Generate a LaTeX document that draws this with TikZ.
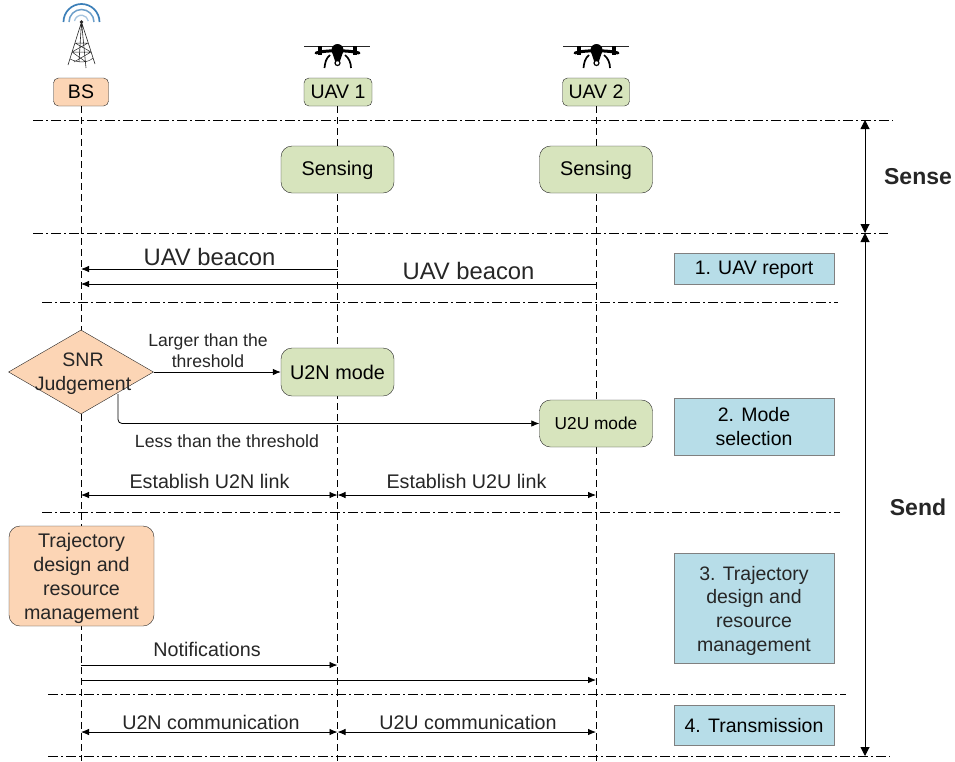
\documentclass[tikz,border=0pt]{standalone}
\usepackage{fontspec}
\setmainfont{Liberation Sans}
\usetikzlibrary{arrows.meta}
\usetikzlibrary{shapes.geometric}

\definecolor{orangefill}{HTML}{FCD5B5}
\definecolor{greenfill}{HTML}{D7E4BD}
\definecolor{bluefill}{HTML}{B7DDE8}
\definecolor{linegray}{HTML}{262626}
\definecolor{towerblue}{HTML}{3C7FB8}

\tikzset{
  head/.style={draw=linegray, rounded corners=5pt, minimum height=28pt, font=\fontsize{19.5}{23}\selectfont},
  state/.style={draw=linegray, rounded corners=11pt, fill=greenfill, minimum width=113pt, minimum height=47pt, font=\fontsize{19.8}{23}\selectfont},
  phase/.style={draw=gray, fill=bluefill, minimum width=160pt, align=center, font=\fontsize{19.5}{23.7}\selectfont},
  life/.style={draw=black, dashed, dash pattern=on 7pt off 4pt, thick},
  divider/.style={draw=black, dash pattern=on 10pt off 3pt on 2pt off 3pt, line width=0.7pt},
  msg/.style={-{Latex[length=8pt,width=6.5pt]}, draw=black, line width=0.8pt},
  twoway/.style={{Latex[length=8pt,width=6.5pt]}-{Latex[length=8pt,width=6.5pt]}, draw=black, line width=0.8pt},
  span/.style={{Triangle[length=9pt,width=9pt]}-{Triangle[length=9pt,width=9pt]}, draw=black, line width=1pt},
  lab/.style={font=\fontsize{19.7}{23}\selectfont, text=linegray},
}

\newcommand{\dronepic}[1]{
  \begin{scope}[shift={(#1,48)}]
    \draw[linegray, line width=1pt] (-33,-2) -- (33,-2);
    \draw[black, line width=3pt, line cap=round] (-21,5) .. controls (-12,2) and (12,2) .. (22,5);
    \fill[black] (-19,-2) rectangle (-15.5,7);
    \fill[black] (16,-2) rectangle (19.5,7);
    \fill[black] (0.5,2) ellipse (6pt and 6pt);
    \fill[black] (-5,4) -- (6,4) -- (3,13) -- (-2,13) -- cycle;
    \draw[black, line width=1.7pt] (-7,7) .. controls (-11,10) and (-12,15) .. (-12.5,20);
    \draw[black, line width=1.7pt] (8,7) .. controls (12,10) and (14,15) .. (14,20);
    \draw[black, fill=white, line width=1.2pt] (0.5,15) circle (2.5pt);
  \end{scope}
}

\begin{document}
\begin{tikzpicture}[x=1pt,y=-1pt]
\useasboundingbox (0,0) rectangle (955,761);

% header row
\node[head, fill=orangefill, minimum width=55pt] at (81,92) (bs) {BS};
\node[head, fill=greenfill, minimum width=68pt] at (338,92) (uavone) {UAV 1};
\node[head, fill=greenfill, minimum width=67pt] at (596,92) (uavtwo) {UAV 2};

\coordinate (bsend) at (81,761);
\coordinate (uavoneend) at (337.5,761);
\coordinate (uavtwoend) at (596,761);

\draw[life] (bs) -- (bsend);
\draw[life] (uavone.south -| uavoneend) -- (uavoneend);
\draw[life] (uavtwo) -- (uavtwoend);

% tower
\draw[towerblue!45, line width=1.3pt] (74.5,21) arc (190:350:7);
\draw[towerblue!75, line width=1.5pt] (69,22) arc (180:360:12.5);
\draw[towerblue, line width=1.7pt] (63.5,22) arc (180:360:18);
\fill[linegray] (81.5,22) circle (1.8pt);
\draw[linegray, line width=0.6pt] (81.5,22) -- (68,65) (81.5,22) -- (95,64) (81.5,22) -- (86,68) (81.5,22) -- (79,62);
\draw[linegray, line width=0.5pt] (72,52) -- (91,52) (70,59) .. controls (78,63) and (88,63) .. (93,58) (75,43) -- (88,43) (72,52) -- (88,43) (91,52) -- (75,43) (72,52) -- (86,62) (91,52) -- (74,62);

% drones
\dronepic{337}
\dronepic{596}

% dividers
\foreach \nm/\ya/\xa/\xb in {a/120/33/893, b/233/33/888, c/302/42/838, d/512/42/840, e/694/48/846, f/756/48/890} {
  \coordinate (l\nm) at (\xa,\ya);
  \coordinate (r\nm) at (\xb,\ya);
  \draw[divider] (l\nm) -- (r\nm);
}

% sense
\node[state, text height=16pt, text depth=4pt] at (337.5,169.5) (senseone) {Sensing};
\node[state, text height=16pt, text depth=4pt] at (596,169.5) (sensetwo) {Sensing};

% reports
\coordinate (bsa) at (81,269);
\coordinate (uavonea) at (337.5,269);
\coordinate (bsb) at (81,284);
\coordinate (uavtwob) at (596,284);
\draw[msg] (uavonea) -- (bsa);
\draw[msg] (uavtwob) -- (bsb);
\node[lab, font=\fontsize{23.8}{27}\selectfont] at (209.5,257) (beaconone) {UAV beacon};
\node[lab, font=\fontsize{23.8}{27}\selectfont] at (468.5,271) (beacontwo) {UAV beacon};

% mode selection
\node[diamond, draw=linegray, fill=orangefill, minimum width=145pt, minimum height=84pt, inner sep=0pt, aspect=1.73] at (81,372) (snr) {};
\node[lab, align=center, font=\fontsize{19.5}{24}\selectfont] at (83,373.5) (snrtext) {SNR\\Judgement};
\node[state, minimum height=48pt] at (337.5,372) (utn) {U2N mode};
\node[state, font=\fontsize{17.3}{20}\selectfont] at (596,423.5) (utu) {U2U mode};
\draw[msg] (snr) -- (utn);
\coordinate (snrout) at (118,394);
\draw[msg, rounded corners=4pt] (snrout) |- (utu);
\node[lab, align=center, font=\fontsize{17.6}{21}\selectfont] at (208,351) (larger) {Larger than the\\threshold};
\node[lab, font=\fontsize{17.7}{20}\selectfont] at (227,441) (less) {Less than the threshold};

% links
\coordinate (bsc) at (81,495);
\coordinate (uavonec) at (337.5,495);
\coordinate (uavtwoc) at (596,495);
\draw[twoway] (bsc) -- (uavonec);
\draw[twoway] (uavonec) -- (uavtwoc);
\node[lab] at (209.5,481) (linkone) {Establish U2N link};
\node[lab] at (466.5,481) (linktwo) {Establish U2U link};

% trajectory
\node[state, fill=orangefill, minimum width=145pt, minimum height=100pt] at (81.5,576) (traj) {};
\node[lab, align=center, font=\fontsize{19.7}{23.8}\selectfont] at (81.5,578.5) (trajtext) {Trajectory\\design and\\resource\\management};

% notifications
\coordinate (bsd) at (81,665);
\coordinate (uavoned) at (337.5,665);
\coordinate (bse) at (81,680);
\coordinate (uavtwoe) at (596,680);
\draw[msg] (bsd) -- (uavoned);
\draw[msg] (bse) -- (uavtwoe);
\node[lab] at (207,649) (notify) {Notifications};

% transmission
\coordinate (bsf) at (81,732);
\coordinate (uavonef) at (337.5,732);
\coordinate (uavtwof) at (596,732);
\draw[twoway] (bsf) -- (uavonef);
\draw[twoway] (uavonef) -- (uavtwof);
\node[lab] at (211,722) (commone) {U2N communication};
\node[lab] at (468,722) (commtwo) {U2U communication};

% phases
\node[phase, minimum height=31pt, text height=16.5pt] at (754,268.5) (phaseone) {1. UAV report};
\node[phase, minimum height=57pt] at (754,426.5) (phasetwo) {2. Mode\\selection};
\node[phase, minimum height=110pt] at (754,608) (phasethree) {};
\node[lab, align=center, font=\fontsize{19.5}{23.7}\selectfont] at (754,610.5) (phasethreetext) {3. Trajectory\\design and\\resource\\management};
\node[phase, minimum height=40pt, text height=16pt] at (754,725) (phasefour) {4. Transmission};

% sense and send spans
\coordinate (spana) at (865,120);
\coordinate (spanb) at (865,233);
\coordinate (spanc) at (865,756);
\draw[span] (spana) -- (spanb);
\draw[span] (spanb) -- (spanc);
\node[font=\bfseries\fontsize{23}{26}\selectfont, text=linegray] at (918,177) (sense) {Sense};
\node[font=\bfseries\fontsize{23}{26}\selectfont, text=linegray] at (918,507) (send) {Send};
\end{tikzpicture}
\end{document}
